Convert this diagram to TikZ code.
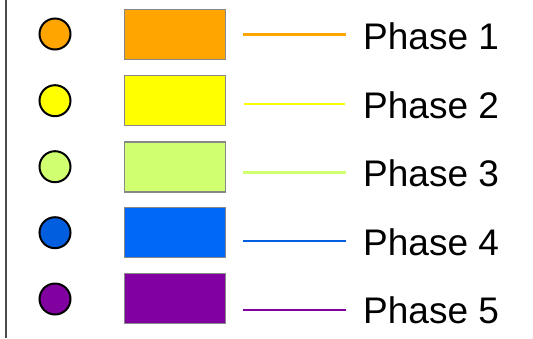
\documentclass[tikz,border=0pt]{standalone}
\usepackage{fontspec}
\setmainfont{Liberation Sans}
\usepackage{xcolor}
\usepackage{tikz}
\usetikzlibrary{positioning, calc}

\definecolor{phaseA}{HTML}{FFA500}
\definecolor{phaseB}{HTML}{FFFF00}
\definecolor{phaseC}{HTML}{D0FF70}
\definecolor{phaseD}{HTML}{0068F8}
\definecolor{phaseE}{HTML}{8000A0}
\definecolor{edgegray}{HTML}{888888}

\tikzset{
    phasedot/.style={draw=black, line width=2pt, circle, minimum size=31pt, inner sep=0pt},
    phasebox/.style={draw=edgegray, line width=1.2pt, rectangle, minimum width=101pt, minimum height=50pt, inner sep=0pt},
    phaseline/.style={line width=2.6pt},
    phaselabel/.style={anchor=base west, inner sep=0pt, font=\fontsize{37}{40}\selectfont}
}

\begin{document}
\begin{tikzpicture}[x=1pt, y=-1pt]
    \useasboundingbox (0,0) rectangle (533,338);
    \coordinate (railtop) at (6,0);
    \coordinate (railbot) at (6,338);
    \draw [line width=1.4pt, black!70] (railtop) -- (railbot);

    % phase 1
    \node (dot1) [phasedot, fill=phaseA] at (55,34) {};
    \node (box1) [phasebox, fill=phaseA] at (175.3,34.8) {};
    \coordinate (l1a) at (243,34.3);
    \coordinate (l1b) at (346,34.3);
    \draw [phaseline, phaseA] (l1a) -- (l1b);
    \node (lab1) [phaselabel] at (363,49.3) {Phase 1};

    % phase 2
    \node (dot2) [phasedot, fill=phaseB] at (55,100.7) {};
    \node (box2) [phasebox, fill=phaseB] at (175.3,100.7) {};
    \coordinate (l2a) at (244,104);
    \coordinate (l2b) at (345,104);
    \draw [phaseline, phaseB] (l2a) -- (l2b);
    \node (lab2) [phaselabel] at (363,118.3) {Phase 2};

    % phase 3
    \node (dot3) [phasedot, fill=phaseC] at (55,166.7) {};
    \node (box3) [phasebox, fill=phaseC] at (175.3,167) {};
    \coordinate (l3a) at (243,172.3);
    \coordinate (l3b) at (346,172.3);
    \draw [phaseline, phaseC] (l3a) -- (l3b);
    \node (lab3) [phaselabel] at (363,186) {Phase 3};

    % phase 4
    \node (dot4) [phasedot, fill=phaseD!90!black] at (55,232.7) {};
    \node (box4) [phasebox, fill=phaseD] at (175.3,232.8) {};
    \coordinate (l4a) at (243,241);
    \coordinate (l4b) at (346,241);
    \draw [phaseline, phaseD!90!black] (l4a) -- (l4b);
    \node (lab4) [phaselabel] at (363,255) {Phase 4};

    % phase 5
    \node (dot5) [phasedot, fill=phaseE] at (55,299) {};
    \node (box5) [phasebox, fill=phaseE] at (175.3,298.8) {};
    \coordinate (l5a) at (243,310);
    \coordinate (l5b) at (346,310);
    \draw [phaseline, phaseE] (l5a) -- (l5b);
    \node (lab5) [phaselabel] at (363,323.3) {Phase 5};
\end{tikzpicture}
\end{document}
